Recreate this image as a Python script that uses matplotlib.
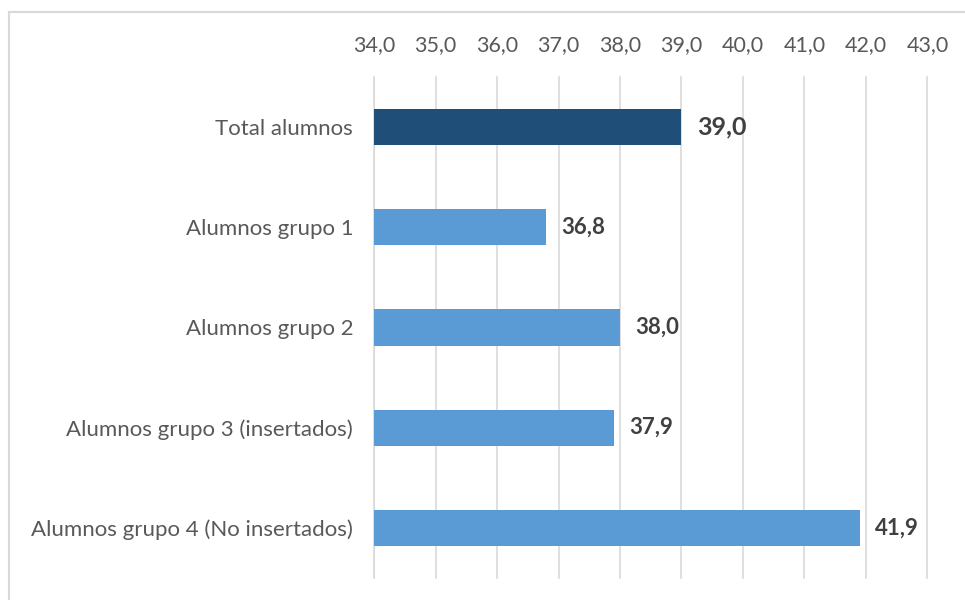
import matplotlib
matplotlib.use("Agg")
import matplotlib.pyplot as plt
from matplotlib.lines import Line2D

categories = ["Total alumnos", "Alumnos grupo 1", "Alumnos grupo 2",
              "Alumnos grupo 3 (insertados)", "Alumnos grupo 4 (No insertados)"]
values = [39.0, 36.8, 38.0, 37.9, 41.9]
colors = ["#1F4E79", "#5B9BD5", "#5B9BD5", "#5B9BD5", "#5B9BD5"]
label_sizes = [18, 16, 16, 16, 16]
ticks = [34, 35, 36, 37, 38, 39, 40, 41, 42, 43]

plt.rcParams['font.family'] = ['Lato', 'DejaVu Sans']

fig = plt.figure(figsize=(9.65, 6), dpi=100)
ax = fig.add_axes([0.3876, 0.0367, 0.5735, 0.835])

y = list(range(len(categories)))
ax.barh(y, [v - 34 for v in values], left=34, height=0.36, color=colors, zorder=3)
ax.set_xlim(34, 43.0)
ax.set_ylim(len(categories) - 0.5, -0.5)
ax.set_xticks(ticks)
ax.set_xticklabels([f"{t:.1f}".replace(".", ",") for t in ticks])
ax.xaxis.tick_top()
ax.tick_params(axis='x', length=0, pad=16, labelsize=15.5, labelcolor="#595959")
ax.set_yticks(y)
ax.set_yticklabels(categories)
ax.tick_params(axis='y', length=0, pad=15, labelsize=16, labelcolor="#595959")
ax.grid(axis='x', color="#D9D9D9", linewidth=1.2, zorder=0)
for gl in ax.get_xgridlines():
    gl.set_clip_on(False)
for s in ax.spines.values():
    s.set_visible(False)
ax.axvline(34, color="#D9D9D9", linewidth=1.2, zorder=1)

for yi, v, fs in zip(y, values, label_sizes):
    ax.text(v + 0.25, yi, f"{v:.1f}".replace(".", ","), va='center', ha='left',
            fontsize=fs, fontweight='bold', color="#404040", zorder=4)

fig.add_artist(Line2D([9/965, 1], [1 - 12/600, 1 - 12/600], color="#D9D9D9", linewidth=1.5))
fig.add_artist(Line2D([9/965, 9/965], [0, 1 - 12/600], color="#D9D9D9", linewidth=1.5))

fig.savefig("out.png", dpi=100)
